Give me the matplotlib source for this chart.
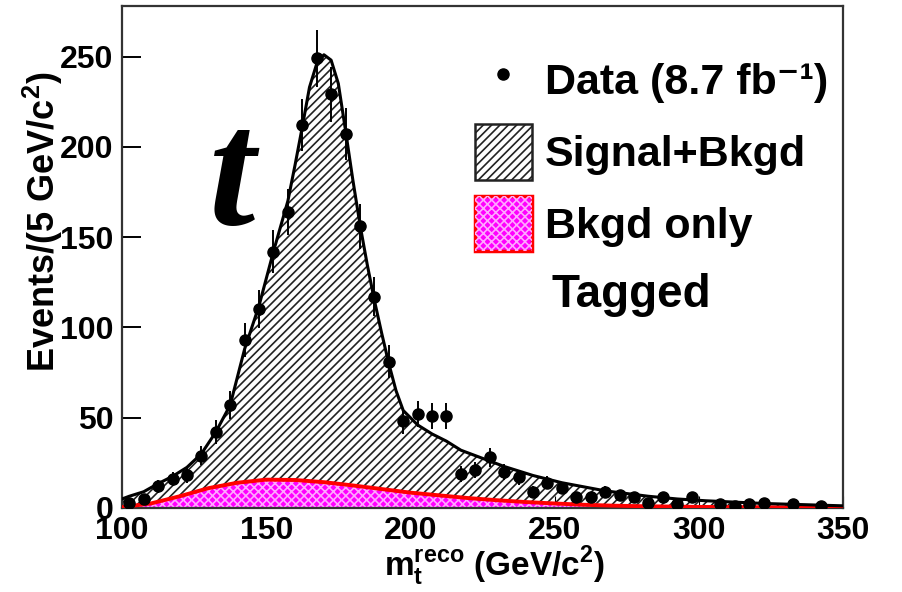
import numpy as np
import matplotlib
matplotlib.use('Agg')
import matplotlib.pyplot as plt
from matplotlib.lines import Line2D
from matplotlib.patches import Patch
from matplotlib.legend_handler import HandlerTuple

plt.rcParams['font.family'] = ['Liberation Sans', 'DejaVu Sans']
plt.rcParams['font.weight'] = 'bold'
plt.rcParams['mathtext.fontset'] = 'custom'
plt.rcParams['mathtext.rm'] = 'Liberation Sans:bold'
plt.rcParams['mathtext.bf'] = 'Liberation Sans:bold'
plt.rcParams['hatch.linewidth'] = 1.2

# data points, 5 GeV bins (empty bins left out)
bin_centers = [102.5, 107.5, 112.5, 117.5, 122.5, 127.5, 132.5, 137.5, 142.5, 147.5,
               152.5, 157.5, 162.5, 167.5, 172.5, 177.5, 182.5, 187.5, 192.5, 197.5,
               202.5, 207.5, 212.5, 217.5, 222.5, 227.5, 232.5, 237.5, 242.5, 247.5,
               252.5, 257.5, 262.5, 267.5, 272.5, 277.5, 282.5, 287.5, 292.5, 297.5,
               307.5, 312.5, 317.5, 322.5, 332.5, 342.5]
counts = [3, 5, 12, 16, 18, 29, 42, 57, 93, 110,
          142, 164, 212, 249, 229, 207, 156, 117, 81, 48,
          52, 51, 51, 19, 21, 28, 20, 17, 9, 14,
          11, 6, 6, 9, 7, 6, 3, 6, 2, 6,
          2, 1, 2, 3, 2, 1]

# signal + background fit curve
fit_mass = [100, 102.5, 107.5, 112.5, 117.5, 122.5, 127.5, 132.5, 137.5, 142.5,
            147.5, 152.5, 157.5, 160, 162.5, 165, 167.5, 170, 172.5, 175,
            177.5, 180, 182.5, 185, 187.5, 190, 192.5, 195, 197.5, 202.5,
            207.5, 212.5, 217.5, 222.5, 227.5, 232.5, 237.5, 242.5, 247.5, 252.5,
            257.5, 262.5, 267.5, 272.5, 282.5, 292.5, 302.5, 322.5, 350]
fit_total = [5, 6.5, 9, 13.5, 17.5, 22.5, 30, 42, 57, 88,
             112, 142, 170, 190, 211, 233, 246, 251, 248, 235,
             209, 182, 157, 135, 115, 97, 80, 65, 54, 46,
             41, 37, 32, 29, 26, 23, 20.5, 18, 16, 14,
             12.5, 11, 9.5, 8.5, 6.5, 5, 4, 2.5, 1.2]

# background only curve
bkg_mass = [100, 110, 120, 130, 140, 150, 160, 170, 180, 190, 200,
            210, 220, 230, 240, 250, 260, 270, 280, 300, 325, 350]
bkg_only = [0.5, 2.5, 6.5, 11, 14, 15.7, 15.5, 14.3, 12.5, 10.5, 8.5,
            7, 5.5, 4.3, 3.3, 2.5, 1.8, 1.3, 1.0, 0.6, 0.4, 0.3]

errors = np.sqrt(counts)

fig = plt.figure(figsize=(9.02, 5.92), dpi=100)
ax = fig.add_axes([0.1353, 0.1419, 0.7993, 0.848])

ax.fill_between(fit_mass, 0, fit_total, facecolor='white', edgecolor='#222222',
                hatch='////', linewidth=0, zorder=1)
ax.fill_between(bkg_mass, 0, bkg_only, facecolor='#ff00ff', linewidth=0, zorder=2)
ax.fill_between(bkg_mass, 0, bkg_only, facecolor='none', edgecolor='#ffa8ff',
                hatch='xxxx', linewidth=0, zorder=2)
ax.plot(bkg_mass, bkg_only, color='#ff0000', lw=2.8, zorder=3)
ax.plot(fit_mass, fit_total, color='black', lw=2.2, zorder=4)
ax.errorbar(bin_centers, counts, yerr=errors, fmt='o', color='black',
            markersize=8, elinewidth=1.4, capsize=0, zorder=5)

ax.set_xlim(100, 350)
ax.set_ylim(0, 278)
ax.set_xticks([100, 150, 200, 250, 300, 350])
ax.set_yticks([0, 50, 100, 150, 200, 250])
ax.tick_params(axis='y', direction='in', length=14, width=1.4, labelsize=23, pad=6)
ax.tick_params(axis='x', direction='in', length=9, width=0.8, labelsize=23, pad=6)
for sp in ax.spines.values():
    sp.set_linewidth(1.6)
    sp.set_color('#333333')

ax.set_xlabel(r'$\mathbf{m_t^{reco}}$ (GeV/c$^\mathbf{2}$)', fontsize=24, fontweight='bold')
ax.xaxis.set_label_coords(0.517, -0.072)
ax.set_ylabel(r'Events/(5 GeV/c$^\mathbf{2}$)', fontsize=26, fontweight='bold')
ax.yaxis.set_label_coords(-0.079, 0.57)

ax.text(0.153, 0.645, 't', transform=ax.transAxes, fontsize=120,
        family='Liberation Serif', style='italic', fontweight='bold',
        ha='center', va='center')
ax.text(0.707, 0.424, 'Tagged', transform=ax.transAxes, fontsize=33,
        fontweight='bold', ha='center', va='center')

handles = [
    Line2D([], [], marker='o', color='black', linestyle='none', markersize=8),
    Patch(facecolor='white', edgecolor='#222222', hatch='////', linewidth=1.8),
    (Patch(facecolor='#ff00ff', edgecolor='#ff0000', linewidth=2.5),
     Patch(facecolor='none', edgecolor='#ffa8ff', hatch='xxxx', linewidth=0)),
]
labels = ['Data (8.7 fb⁻¹)', 'Signal+Bkgd', 'Bkgd only']
ax.legend(handles, labels, loc='upper left', bbox_to_anchor=(0.489, 0.907),
          frameon=False, fontsize=31, handlelength=1.33, handleheight=1.6,
          labelspacing=0.38, handletextpad=0.3, borderpad=0, borderaxespad=0,
          handler_map={tuple: HandlerTuple(ndivide=1)})

fig.savefig('out.png', dpi=100)
